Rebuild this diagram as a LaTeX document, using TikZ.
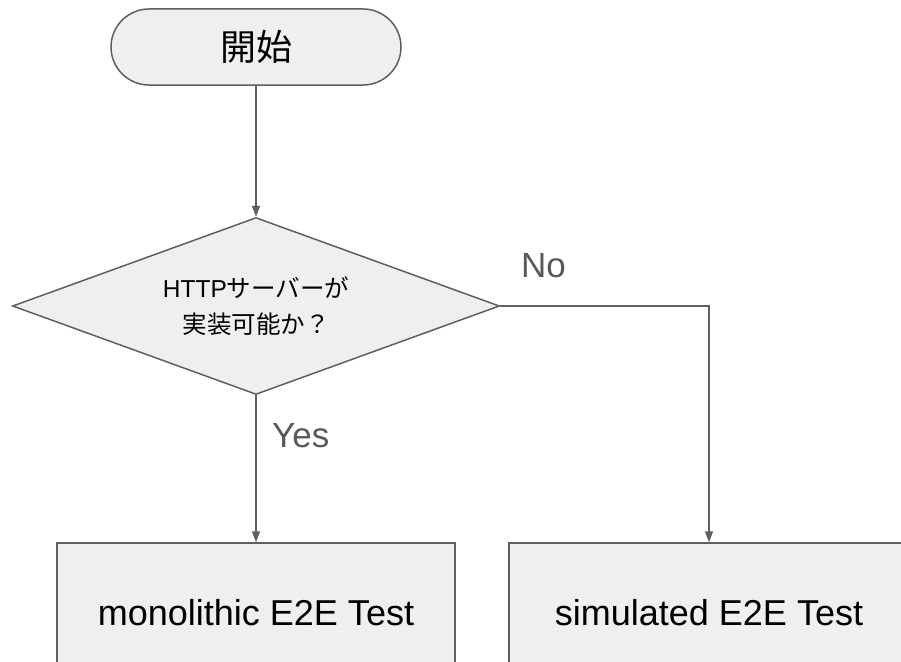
\documentclass[tikz,border=0pt]{standalone}
\usepackage{fontspec}
\setmainfont{Liberation Sans}
\newfontfamily\jp{Noto Sans CJK JP}
\usetikzlibrary{shapes.geometric,arrows.meta,positioning}
\definecolor{shapefill}{HTML}{EFEFEF}
\definecolor{edge}{HTML}{5F5F5F}
\definecolor{labelgray}{HTML}{595959}
\begin{document}
\begin{tikzpicture}[x=1pt,y=-1pt,
  shapebase/.style={draw=edge, line width=1.5pt, fill=shapefill, inner sep=0pt},
  terminal/.style={shapebase, rectangle, rounded corners=38pt,
    minimum width=290pt, minimum height=76pt, font=\jp\fontsize{36}{40}\selectfont},
  decision/.style={shapebase, diamond, aspect=2.75,
    minimum width=487pt, minimum height=177pt, align=center,
    font=\fontsize{24.5}{36}\selectfont},
  process/.style={shapebase, rectangle, minimum width=398pt, minimum height=140pt,
    font=\fontsize{36}{40}\selectfont},
  flow/.style={draw=edge, line width=1.5pt, -{Triangle[length=11pt,width=8pt]}},
  branch/.style={text=labelgray, font=\fontsize{35}{40}\selectfont, inner sep=0pt}
]
\useasboundingbox (0,0) rectangle (901,661);
\clip (0,0) rectangle (901,661);

\node[terminal] (start) at (256,47) {開始};
\node[decision] (check) at (256,306)
  {HTTP{\jp サーバーが}\\{\jp 実装可能か？}};
\node[process] (mono) at (256,613) {monolithic E2E Test};
\node[process, minimum width=400pt] (sim) at (709,613) {simulated E2E Test};

\draw[flow] (start.south) -- (check.north);
\draw[flow] (check.south) -- (mono.north);
\draw[flow] (check.east) -| (sim.north);

\node[branch, anchor=base west] (yes) at (272,447) {Yes};
\node[branch, anchor=base west] (no) at (521,277) {No};
\end{tikzpicture}
\end{document}
